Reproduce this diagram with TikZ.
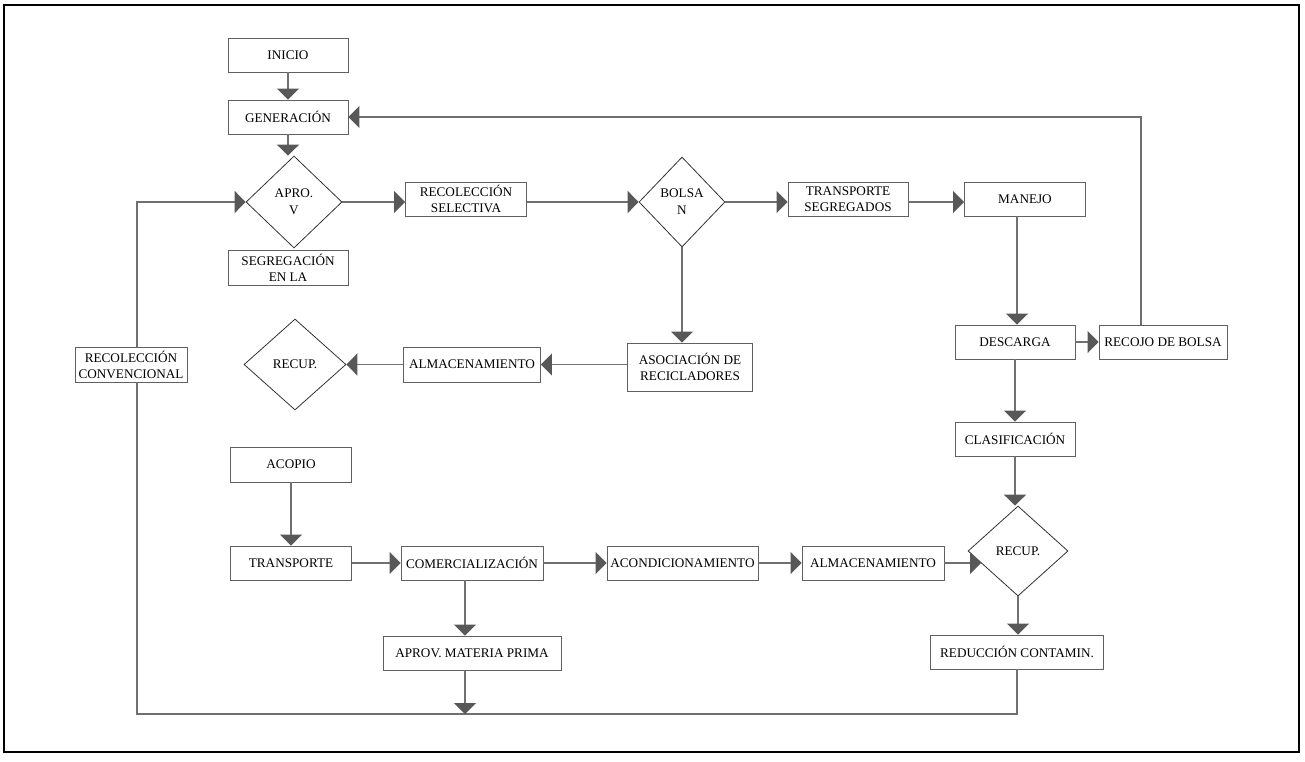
\documentclass[tikz,border=0pt]{standalone}
\usepackage{fontspec}
\setmainfont{Liberation Serif}
\usetikzlibrary{shapes.geometric,arrows.meta,calc}
\definecolor{linec}{HTML}{707070}
\definecolor{arrowc}{HTML}{585858}
\definecolor{boxc}{HTML}{606060}
\tikzset{
  box/.style={draw=boxc, line width=0.9pt, fill=white, inner sep=1pt, align=center,
    minimum height=34pt, font=\fontsize{13.2}{16}\selectfont},
  dia/.style={draw=black!80, line width=0.8pt, fill=white, diamond, inner sep=0pt, align=center,
    font=\fontsize{13.2}{17}\selectfont},
  conn/.style={draw=linec, line width=1.8pt},
  arr/.style={conn, -{Triangle[length=11pt,width=22pt,color=arrowc]}},
}
\begin{document}
\begin{tikzpicture}[x=1pt,y=-1pt]
\useasboundingbox (0,0) rectangle (1305,761);
\draw[line width=2pt] (4,5) rectangle (1299,752);

% nodes
\node[box, minimum width=120pt] (inicio) at (288,55) {INICIO};
\node[box, minimum width=120pt] (gen) at (288,117) {GENERACIÓN};
\node[dia, minimum width=96pt, minimum height=92pt] (apro) at (294,202) {APRO.\\V};
\node[box, minimum width=120pt, minimum height=35pt] (seg) at (288,267.5) {SEGREGACIÓN\\EN LA};
\node[box, minimum width=121pt] (recsel) at (466,199) {RECOLECCIÓN\\SELECTIVA};
\node[dia, minimum width=86pt, minimum height=90pt] (bolsa) at (682,202) {BOLSA\\N};
\node[box, minimum width=120pt] (transseg) at (848,199) {TRANSPORTE\\SEGREGADOS};
\node[box, minimum width=121pt] (manejo) at (1025,199) {MANEJO};
\node[box, minimum width=120pt] (descarga) at (1015,342) {DESCARGA};
\node[box, minimum width=128pt] (recojo) at (1163,342) {RECOJO DE BOLSA};
\node[box, minimum width=120pt] (clasif) at (1015,439) {CLASIFICACIÓN};
\node[dia, minimum width=100pt, minimum height=90pt] (recup2) at (1018,551) {RECUP.};
\node[box, minimum width=173pt] (reduc) at (1017,652) {REDUCCIÓN CONTAMIN.};
\node[box, minimum width=112pt, minimum height=35pt] (recconv) at (131,364.5) {RECOLECCIÓN\\CONVENCIONAL};
\node[dia, minimum width=102pt, minimum height=91pt] (recup1) at (295,364.5) {RECUP.};
\node[box, minimum width=137pt, minimum height=35pt] (alm1) at (472,364.5) {ALMACENAMIENTO};
\node[box, minimum width=125pt, minimum height=48pt] (asoc) at (690,367) {ASOCIACIÓN DE\\RECICLADORES};
\node[box, minimum width=121pt, minimum height=35pt] (acopio) at (291,464.5) {ACOPIO};
\node[box, minimum width=121pt] (transp) at (291,563) {TRANSPORTE};
\node[box, minimum width=142pt] (comerc) at (472,563) {COMERCIALIZACIÓN};
\node[box, minimum width=178pt] (aprov) at (472,653) {APROV. MATERIA PRIMA};
\node[box, minimum width=151pt] (acond) at (682.5,563) {ACONDICIONAMIENTO};
\node[box, minimum width=142pt] (alm2) at (873,563) {ALMACENAMIENTO};

\coordinate (bl) at (137,714);
\coordinate (rk) at (1141,117);

% connectors
\draw[arr] (inicio.south) -- (gen.north);
\draw[arr] (gen.south) -- (gen.south |- apro.north);
\draw[arr] (apro.east) -- (apro.east -| recsel.west);
\draw[arr] (recsel.east |- bolsa.west) -- (bolsa.west);
\draw[arr] (bolsa.east) -- (bolsa.east -| transseg.west);
\draw[arr] (transseg.east |- bolsa.east) -- (bolsa.east -| manejo.west);
\draw[arr] ([xshift=-8pt]manejo.south) -- ([xshift=-8pt]manejo.south |- descarga.north);
\draw[arr] (descarga.east) -- (recojo.west);
\draw[arr] (recojo.north -| rk) -- (rk) -- (gen.east);
\draw[arr] (descarga.south) -- (clasif.north);
\draw[arr] (clasif.south) -- (clasif.south |- recup2.north);
\draw[arr] (recup2.south) -- (recup2.south |- reduc.north);
\draw[conn] (reduc.south) |- (bl) -- (bl |- recconv.south);
\draw[arr] (bl |- recconv.north) |- (apro.west);
\draw[arr] ([xshift=-7pt]aprov.south) -- ([xshift=-7pt]aprov.south |- bl);
\draw[arr] ([xshift=-7pt]comerc.south) -- ([xshift=-7pt]aprov.north);
\draw[arr] (acopio.south) -- (transp.north);
\draw[arr] (transp.east) -- (comerc.west);
\draw[arr] (comerc.east) -- (acond.west);
\draw[arr] (acond.east) -- (alm2.west);
\draw[arr] (alm2.east) -- ($(recup2.center)+(-37,12)$);
\draw[arr] (bolsa.south) -- (bolsa.south |- asoc.north);
\draw[arr] (asoc.west |- alm1.east) -- (alm1.east);
\draw[arr] (alm1.west) -- (recup1.east);
\end{tikzpicture}
\end{document}
